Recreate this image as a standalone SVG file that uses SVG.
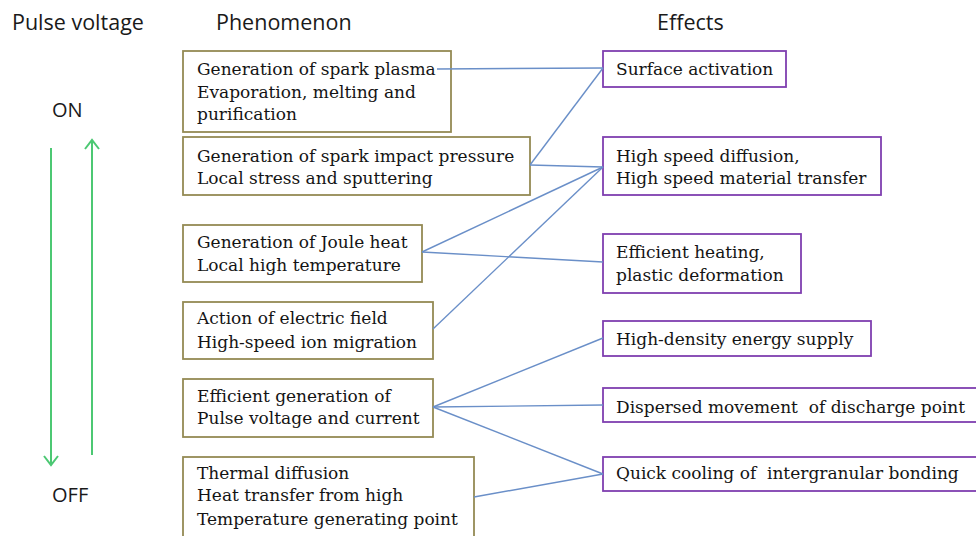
<svg xmlns="http://www.w3.org/2000/svg" width="976" height="536" viewBox="0 0 976 536">
<style>
.ph{fill:#fff;stroke:#948A54;stroke-width:1.8}
.ef{fill:#fff;stroke:#7F3FB0;stroke-width:1.8}
.t{font-family:"DejaVu Serif","Liberation Serif",serif;font-size:17px;fill:#141414;white-space:pre}
.h{font-family:"Open Sans","Liberation Sans",sans-serif;font-size:21.5px;fill:#1a1a1a}
.c{stroke:#6A8FC8;stroke-width:1.4;fill:none}
.g{stroke:#4CC873;stroke-width:2;fill:none}
</style>
<rect width="976" height="536" fill="#fff"/>
<g id="headings">
<text class="h" x="12" y="30">Pulse voltage</text>
<text class="h" x="216" y="30">Phenomenon</text>
<text class="h" x="657" y="30">Effects</text>
<text class="h" x="52" y="117" style="font-size:20px">ON</text>
<text class="h" x="52" y="502" style="font-size:20px">OFF</text>
</g>
<g id="pulse-arrows">
<path class="g" d="M51 148 V465 M44 456 L51 465 L58 456"/>
<path class="g" d="M92 455 V140 M85 149 L92 140 L99 149"/>
</g>
<g id="p1"><rect class="ph" x="183" y="51" width="268" height="81"/>
<text class="t" x="197" y="75">Generation of spark plasma</text>
<text class="t" x="197" y="98">Evaporation, melting and</text>
<text class="t" x="197" y="120">purification</text></g>
<g id="p2"><rect class="ph" x="183" y="137" width="347" height="58"/>
<text class="t" x="197" y="162">Generation of spark impact pressure</text>
<text class="t" x="197" y="184">Local stress and sputtering</text></g>
<g id="p3"><rect class="ph" x="183" y="225" width="239" height="57"/>
<text class="t" x="197" y="248">Generation of Joule heat</text>
<text class="t" x="197" y="271">Local high temperature</text></g>
<g id="p4"><rect class="ph" x="183" y="302" width="250" height="57"/>
<text class="t" x="197" y="324">Action of electric field</text>
<text class="t" x="197" y="348">High-speed ion migration</text></g>
<g id="p5"><rect class="ph" x="183" y="379" width="250" height="58"/>
<text class="t" x="197" y="402">Efficient generation of</text>
<text class="t" x="197" y="424">Pulse voltage and current</text></g>
<g id="p6"><rect class="ph" x="183" y="457" width="291" height="85"/>
<text class="t" x="197" y="479">Thermal diffusion</text>
<text class="t" x="197" y="501">Heat transfer from high</text>
<text class="t" x="197" y="525">Temperature generating point</text></g>
<g id="e1"><rect class="ef" x="603" y="51" width="183" height="36"/>
<text class="t" x="616" y="75">Surface activation</text></g>
<g id="e2"><rect class="ef" x="603" y="137" width="278" height="58"/>
<text class="t" x="616" y="162">High speed diffusion,</text>
<text class="t" x="616" y="184">High speed material transfer</text></g>
<g id="e3"><rect class="ef" x="603" y="234" width="198" height="59"/>
<text class="t" x="616" y="258">Efficient heating,</text>
<text class="t" x="616" y="281">plastic deformation</text></g>
<g id="e4"><rect class="ef" x="603" y="321" width="268" height="35"/>
<text class="t" x="616" y="345">High-density energy supply</text></g>
<g id="e5"><rect class="ef" x="603" y="388" width="380" height="34"/>
<text class="t" x="616" y="413" xml:space="preserve">Dispersed movement  of discharge point</text></g>
<g id="e6"><rect class="ef" x="603" y="457" width="380" height="34"/>
<text class="t" x="616" y="479" xml:space="preserve">Quick cooling of  intergranular bonding</text></g>
<g id="connectors">
<line class="c" x1="437" y1="69" x2="603" y2="68"/>
<line class="c" x1="530" y1="165" x2="603" y2="68"/>
<line class="c" x1="530" y1="165" x2="603" y2="167"/>
<line class="c" x1="422" y1="252" x2="603" y2="167"/>
<line class="c" x1="422" y1="252" x2="603" y2="262"/>
<line class="c" x1="433" y1="329" x2="603" y2="167"/>
<line class="c" x1="433" y1="407" x2="603" y2="338"/>
<line class="c" x1="433" y1="407" x2="603" y2="405"/>
<line class="c" x1="433" y1="407" x2="603" y2="474"/>
<line class="c" x1="474" y1="497" x2="603" y2="474"/>
</g>
</svg>
